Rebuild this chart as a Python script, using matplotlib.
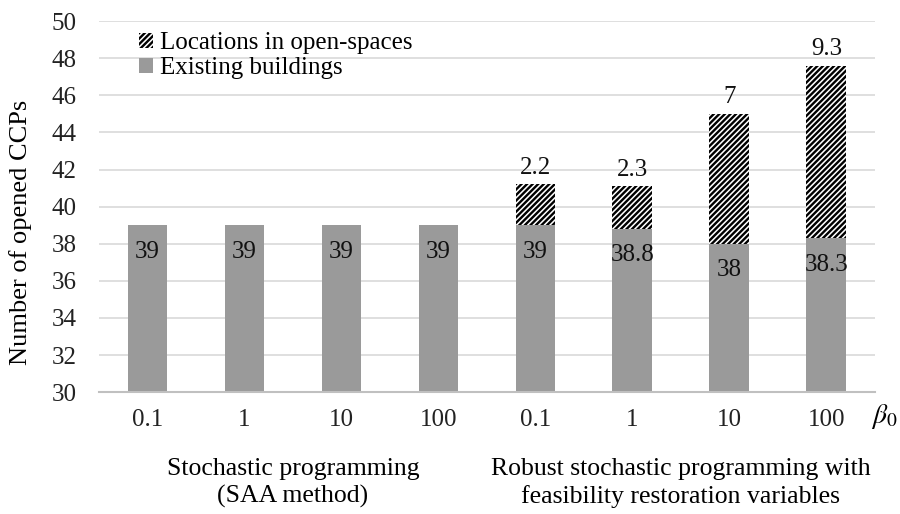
import numpy as np
import matplotlib
matplotlib.use('Agg')
import matplotlib.pyplot as plt
import matplotlib.transforms as mtransforms

plt.rcParams['font.family'] = ['Liberation Serif', 'DejaVu Serif']
plt.rcParams['mathtext.fontset'] = 'stix'
plt.rcParams['hatch.linewidth'] = 1.7

# data
beta_labels = ['0.1', '1', '10', '100', '0.1', '1', '10', '100']
existing = [39, 39, 39, 39, 39, 38.8, 38, 38.3]
open_space = [0, 0, 0, 0, 2.2, 2.3, 7, 9.3]
groups = ['Stochastic programming\n(SAA method)',
          'Robust stochastic programming with\nfeasibility restoration variables']
group_pos = [1.5, 5.5]
base = 30

fig = plt.figure(figsize=(9, 5.14), dpi=100)
ax = fig.add_axes([0.11, 0.237, 0.862, 0.722])

x = np.arange(len(beta_labels))
w = 0.41
ex_h = np.array(existing) - base
b1 = ax.bar(x, ex_h, w, bottom=base, color='#9a9a9a', label='Existing buildings', zorder=2)
b2 = ax.bar(x, open_space, w, bottom=existing, color='white', edgecolor='black',
            linewidth=0, hatch='//////', label='Locations in open-spaces', zorder=2)

for xi, e, o in zip(x, existing, open_space):
    ax.annotate(f'{e:g}', (xi, e), xytext=(0, -19), textcoords='offset points',
                ha='center', va='center', fontsize=18, color='#111111', zorder=3)
    if o > 0:
        ax.annotate(f'{o:g}', (xi, e + o), xytext=(0, 4), textcoords='offset points',
                    ha='center', va='bottom', fontsize=18, color='#111111', zorder=3)

ax.set_xlim(-0.5, len(x) - 0.5)
ax.set_ylim(30, 50)
ax.set_yticks(np.arange(30, 51, 2))
ax.set_xticks(x)
ax.set_xticklabels(beta_labels)
ax.tick_params(axis='both', length=0, labelsize=18, colors='#222222')
ax.tick_params(axis='x', pad=12)
ax.tick_params(axis='y', pad=16)
ax.yaxis.grid(True, color='#d9d9d9', linewidth=1.2, zorder=0)
ax.set_axisbelow(True)
for s in ['top', 'right', 'left']:
    ax.spines[s].set_visible(False)
ax.spines['bottom'].set_color('#c0c0c0')
ax.spines['bottom'].set_linewidth(1.5)

ax.set_ylabel('Number of opened CCPs', fontsize=19)
ax.yaxis.set_label_coords(-0.086, 0.43)

trans = mtransforms.blended_transform_factory(ax.transData, ax.transAxes)
for gp, gl in zip(group_pos, groups):
    ax.text(gp, -0.244, gl, transform=trans, ha='center', va='center',
            fontsize=18.5, linespacing=1.3)

fig.text(0.983, 0.19, r'$\beta_0$', fontsize=20, ha='center', va='center')

handles = [b2, b1]
ax.legend(handles, [h.get_label() for h in handles], loc='upper left',
          bbox_to_anchor=(0.032, 1.01), frameon=False, fontsize=18,
          handlelength=0.55, handleheight=0.55, handletextpad=0.3,
          labelspacing=0.12, borderaxespad=0.2)

fig.savefig('out.png', dpi=100)
